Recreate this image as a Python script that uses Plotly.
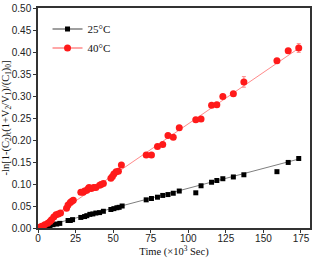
import plotly.graph_objects as go

# ---- data ----
t_red = [1, 2.5, 4.5, 6.5, 8, 9, 10.5, 12, 13.5, 15, 19, 20, 21.5, 22.5, 23.5,
         28.5, 30, 31, 32.5, 33.5, 34, 35.5, 37, 38.5, 41, 42, 43.5,
         48.5, 49.5, 50.5, 52, 53.5, 55.5, 72, 75.5, 79.5, 83, 86.5, 90, 94,
         105, 108.5, 115.5, 119, 123, 130, 137, 159, 166.5, 173.5]
v_red = [0.0015, 0.004, 0.0075, 0.011, 0.015, 0.019, 0.025, 0.03, 0.032, 0.034,
         0.045, 0.052, 0.058, 0.061, 0.063,
         0.081, 0.081, 0.084, 0.086, 0.09, 0.092, 0.09, 0.092, 0.092, 0.097, 0.099, 0.101,
         0.113, 0.117, 0.123, 0.128, 0.129, 0.143, 0.166, 0.166, 0.185, 0.19, 0.21, 0.206, 0.228,
         0.246, 0.248, 0.279, 0.28, 0.299, 0.305, 0.332, 0.38, 0.403, 0.409]
e_red = [0.002] * 46 + [0.012, 0.004, 0.005, 0.01]

t_blk = [6, 8, 10, 12.5, 14.5, 20, 21.5, 23, 28.5, 31, 32.5, 34.5, 36.5, 38.5,
         41, 43.5, 48.5, 50.5, 52.5, 54, 56, 72, 75.5, 79.5, 83, 86.5, 90, 94,
         105, 108.5, 115.5, 119, 123, 130, 137, 159, 166.5, 173.5]
v_blk = [0.002, 0.0045, 0.0075, 0.009, 0.0105, 0.017, 0.017, 0.019, 0.024, 0.026,
         0.028, 0.031, 0.032, 0.034, 0.035, 0.038, 0.042, 0.044, 0.046, 0.047, 0.05,
         0.064, 0.067, 0.07, 0.074, 0.076, 0.079, 0.084, 0.08, 0.096, 0.104, 0.108,
         0.112, 0.116, 0.121, 0.128, 0.149, 0.158]

fit_t = [0, 175]
fit_red = [0.003, 0.412]
fit_blk = [0.0, 0.158]

x_ticks = [0, 25, 50, 75, 100, 125, 150, 175]
y_ticks = [0.00, 0.05, 0.10, 0.15, 0.20, 0.25, 0.30, 0.35, 0.40, 0.45, 0.50]

RED = "#ff1a1a"
PINK = "#ff8a8a"
GRAY = "#7f7f7f"

fig = go.Figure()
# fit lines
fig.add_trace(go.Scatter(x=fit_t, y=fit_blk, mode="lines", line=dict(color=GRAY, width=1),
                         showlegend=False, hoverinfo="skip"))
fig.add_trace(go.Scatter(x=fit_t, y=fit_red, mode="lines", line=dict(color=PINK, width=1),
                         showlegend=False, hoverinfo="skip"))
# data
fig.add_trace(go.Scatter(x=t_blk, y=v_blk, mode="markers", name="25°C",
                         marker=dict(symbol="square", size=5, color="black"),
                         showlegend=False))
fig.add_trace(go.Scatter(x=t_red, y=v_red, mode="markers", name="40°C",
                         marker=dict(symbol="circle", size=7, color=RED),
                         error_y=dict(type="data", array=e_red, color=PINK, thickness=1, width=2),
                         showlegend=False))
# legend entries (line + marker)
fig.add_trace(go.Scatter(x=[None], y=[None], mode="lines+markers", name="25°C",
                         line=dict(color=GRAY, width=1.5),
                         marker=dict(symbol="square", size=5, color="black")))
fig.add_trace(go.Scatter(x=[None], y=[None], mode="lines+markers", name="40°C",
                         line=dict(color=PINK, width=1.5),
                         marker=dict(symbol="circle", size=7, color=RED)))

axis_common = dict(showline=True, linecolor="#333333", linewidth=1.5, mirror=True,
                   ticks="outside", ticklen=3, tickwidth=1, tickcolor="#333333",
                   showgrid=False, zeroline=False, ticklabeloverflow="allow",
                   tickfont=dict(family="Liberation Sans, Arial, sans-serif", size=10, color="#222222"))

fig.update_layout(
    width=314, height=262,
    margin=dict(l=38, r=2, t=5, b=34),
    paper_bgcolor="white", plot_bgcolor="white",
    xaxis=dict(range=[0, 181], tickvals=x_ticks, ticktext=[str(v) for v in x_ticks],
               ticklabelstandoff=-3,
               title=dict(text="Time (×10<sup>3</sup> Sec)", standoff=0,
                          font=dict(family="Liberation Serif, Times New Roman, serif", size=10.5, color="#111111")),
               **axis_common),
    yaxis=dict(range=[0, 0.5], tickvals=y_ticks, ticktext=[f"{v:.2f}" for v in y_ticks],
               title=dict(text="-ln[1-(C<sub>2</sub>)<sub>t</sub>(1+V<sub>2</sub>/V<sub>1</sub>)/(C<sub>1</sub>)<sub>0</sub>]",
                          standoff=2,
                          font=dict(family="Liberation Serif, Times New Roman, serif", size=10.5, color="#111111")),
               **axis_common),
    legend=dict(x=0.035, y=0.97, xanchor="left", yanchor="top", bgcolor="rgba(0,0,0,0)",
                font=dict(family="Liberation Serif, Times New Roman, serif", size=11, color="#111111"),
                tracegroupgap=0, itemwidth=30),
)

fig.write_html("out.html", config={"displayModeBar": False},
               post_script="document.body.style.margin='0';document.body.style.padding='0';")
